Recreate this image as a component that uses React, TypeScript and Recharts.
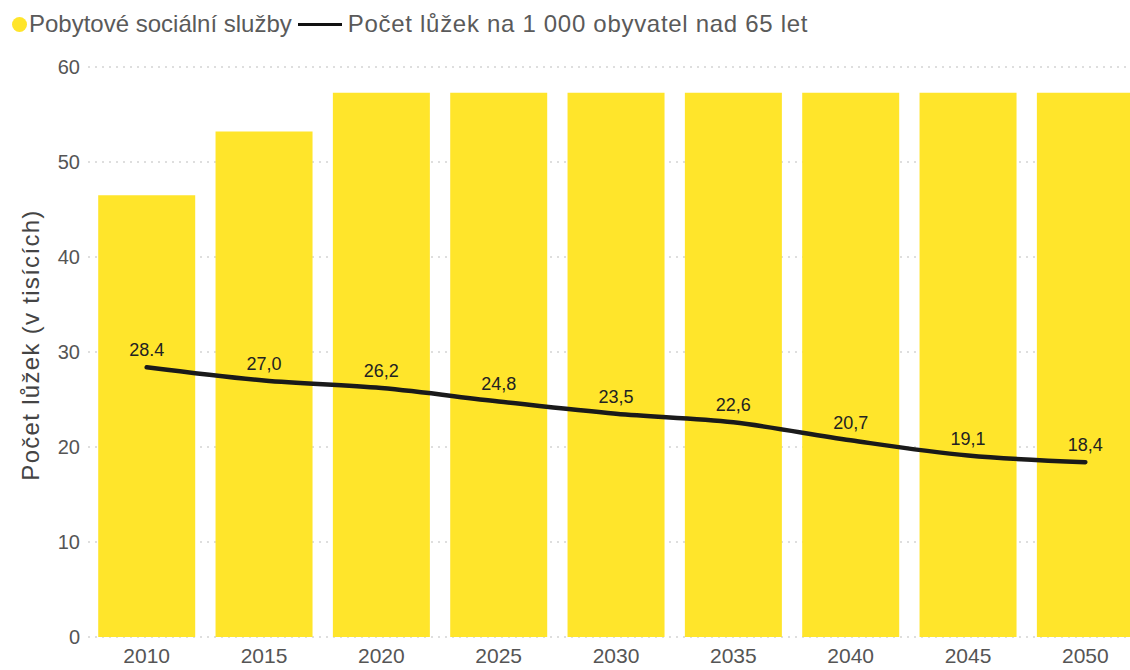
import React from "react";
import {
  ComposedChart,
  Bar,
  Line,
  XAxis,
  YAxis,
  CartesianGrid,
  LabelList,
  Label,
} from "recharts";

const YEARS = ["2010", "2015", "2020", "2025", "2030", "2035", "2040", "2045", "2050"];
const SERVICES = [46.5, 53.2, 57.3, 57.3, 57.3, 57.3, 57.3, 57.3, 57.3];
const BEDS = [28.4, 27.0, 26.2, 24.8, 23.5, 22.6, 20.7, 19.1, 18.4];
const BED_LABELS = ["28.4", "27,0", "26,2", "24,8", "23,5", "22,6", "20,7", "19,1", "18,4"];
const Y_TICKS = [0, 10, 20, 30, 40, 50, 60];

const YELLOW = "#FFE52B";
const FONT = '"Liberation Sans", Arial, sans-serif';

const data = YEARS.map((year, i) => ({
  year,
  services: SERVICES[i],
  beds: BEDS[i],
  bedLabel: BED_LABELS[i],
}));

function YTitle(props: any) {
  const vb = props.viewBox || { x: 0, y: 0, height: 0 };
  const x = vb.x + 30;
  const y = vb.y + vb.height / 2 - 7;
  return (
    <text
      x={x}
      y={y}
      transform={`rotate(-90, ${x}, ${y})`}
      textAnchor="middle"
      dominantBaseline="central"
      fill="#444"
      fontSize={24}
      letterSpacing={1.3}
      fontFamily={FONT}
    >
      Počet lůžek (v tisících)
    </text>
  );
}

function ChartLegend() {
  return (
    <div
      style={{
        position: "absolute",
        top: 10,
        left: 12,
        display: "flex",
        alignItems: "center",
        fontFamily: FONT,
        fontSize: 24,
        color: "#5a5a5a",
        whiteSpace: "nowrap",
      }}
    >
      <span
        style={{
          width: 15,
          height: 15,
          borderRadius: "50%",
          background: YELLOW,
          display: "inline-block",
          marginRight: 2,
        }}
      />
      <span>Pobytové sociální služby</span>
      <span
        style={{
          width: 44,
          height: 3,
          background: "#111",
          display: "inline-block",
          margin: "0 6px 0 6px",
        }}
      />
      <span style={{ letterSpacing: 0.7 }}>Počet lůžek na 1 000 obyvatel nad 65 let</span>
    </div>
  );
}

export default function App() {
  return (
    <div
      style={{
        position: "absolute",
        top: 0,
        left: 0,
        width: 1130,
        height: 670,
        overflow: "hidden",
        background: "#fff",
      }}
    >
      <ChartLegend />
      <ComposedChart
        width={1144}
        height={670}
        data={data}
        margin={{ top: 67, right: 0, bottom: 3, left: 0 }}
        barCategoryGap="8.7%"
      >
        <CartesianGrid
          vertical={false}
          stroke="#d4d4d4"
          strokeDasharray="2 5"
          strokeWidth={1.5}
        />
        <XAxis
          dataKey="year"
          axisLine={false}
          tickLine={false}
          tickMargin={5}
          height={30}
          tick={{ fill: "#555", fontSize: 21, fontFamily: FONT }}
        />
        <YAxis
          domain={[0, 60]}
          ticks={Y_TICKS}
          width={88}
          axisLine={false}
          tickLine={false}
          tick={{ fill: "#555", fontSize: 20, fontFamily: FONT }}
        >
          <Label content={<YTitle />} />
        </YAxis>
        <Bar dataKey="services" fill={YELLOW} isAnimationActive={false} />
        <Line
          type="monotone"
          dataKey="beds"
          stroke="#1a1a1a"
          strokeWidth={4.5}
          strokeLinecap="round"
          dot={false}
          isAnimationActive={false}
        >
          <LabelList
            dataKey="bedLabel"
            position="top"
            offset={11}
            fill="#222"
            fontSize={18}
            fontFamily={FONT}
          />
        </Line>
      </ComposedChart>
    </div>
  );
}
